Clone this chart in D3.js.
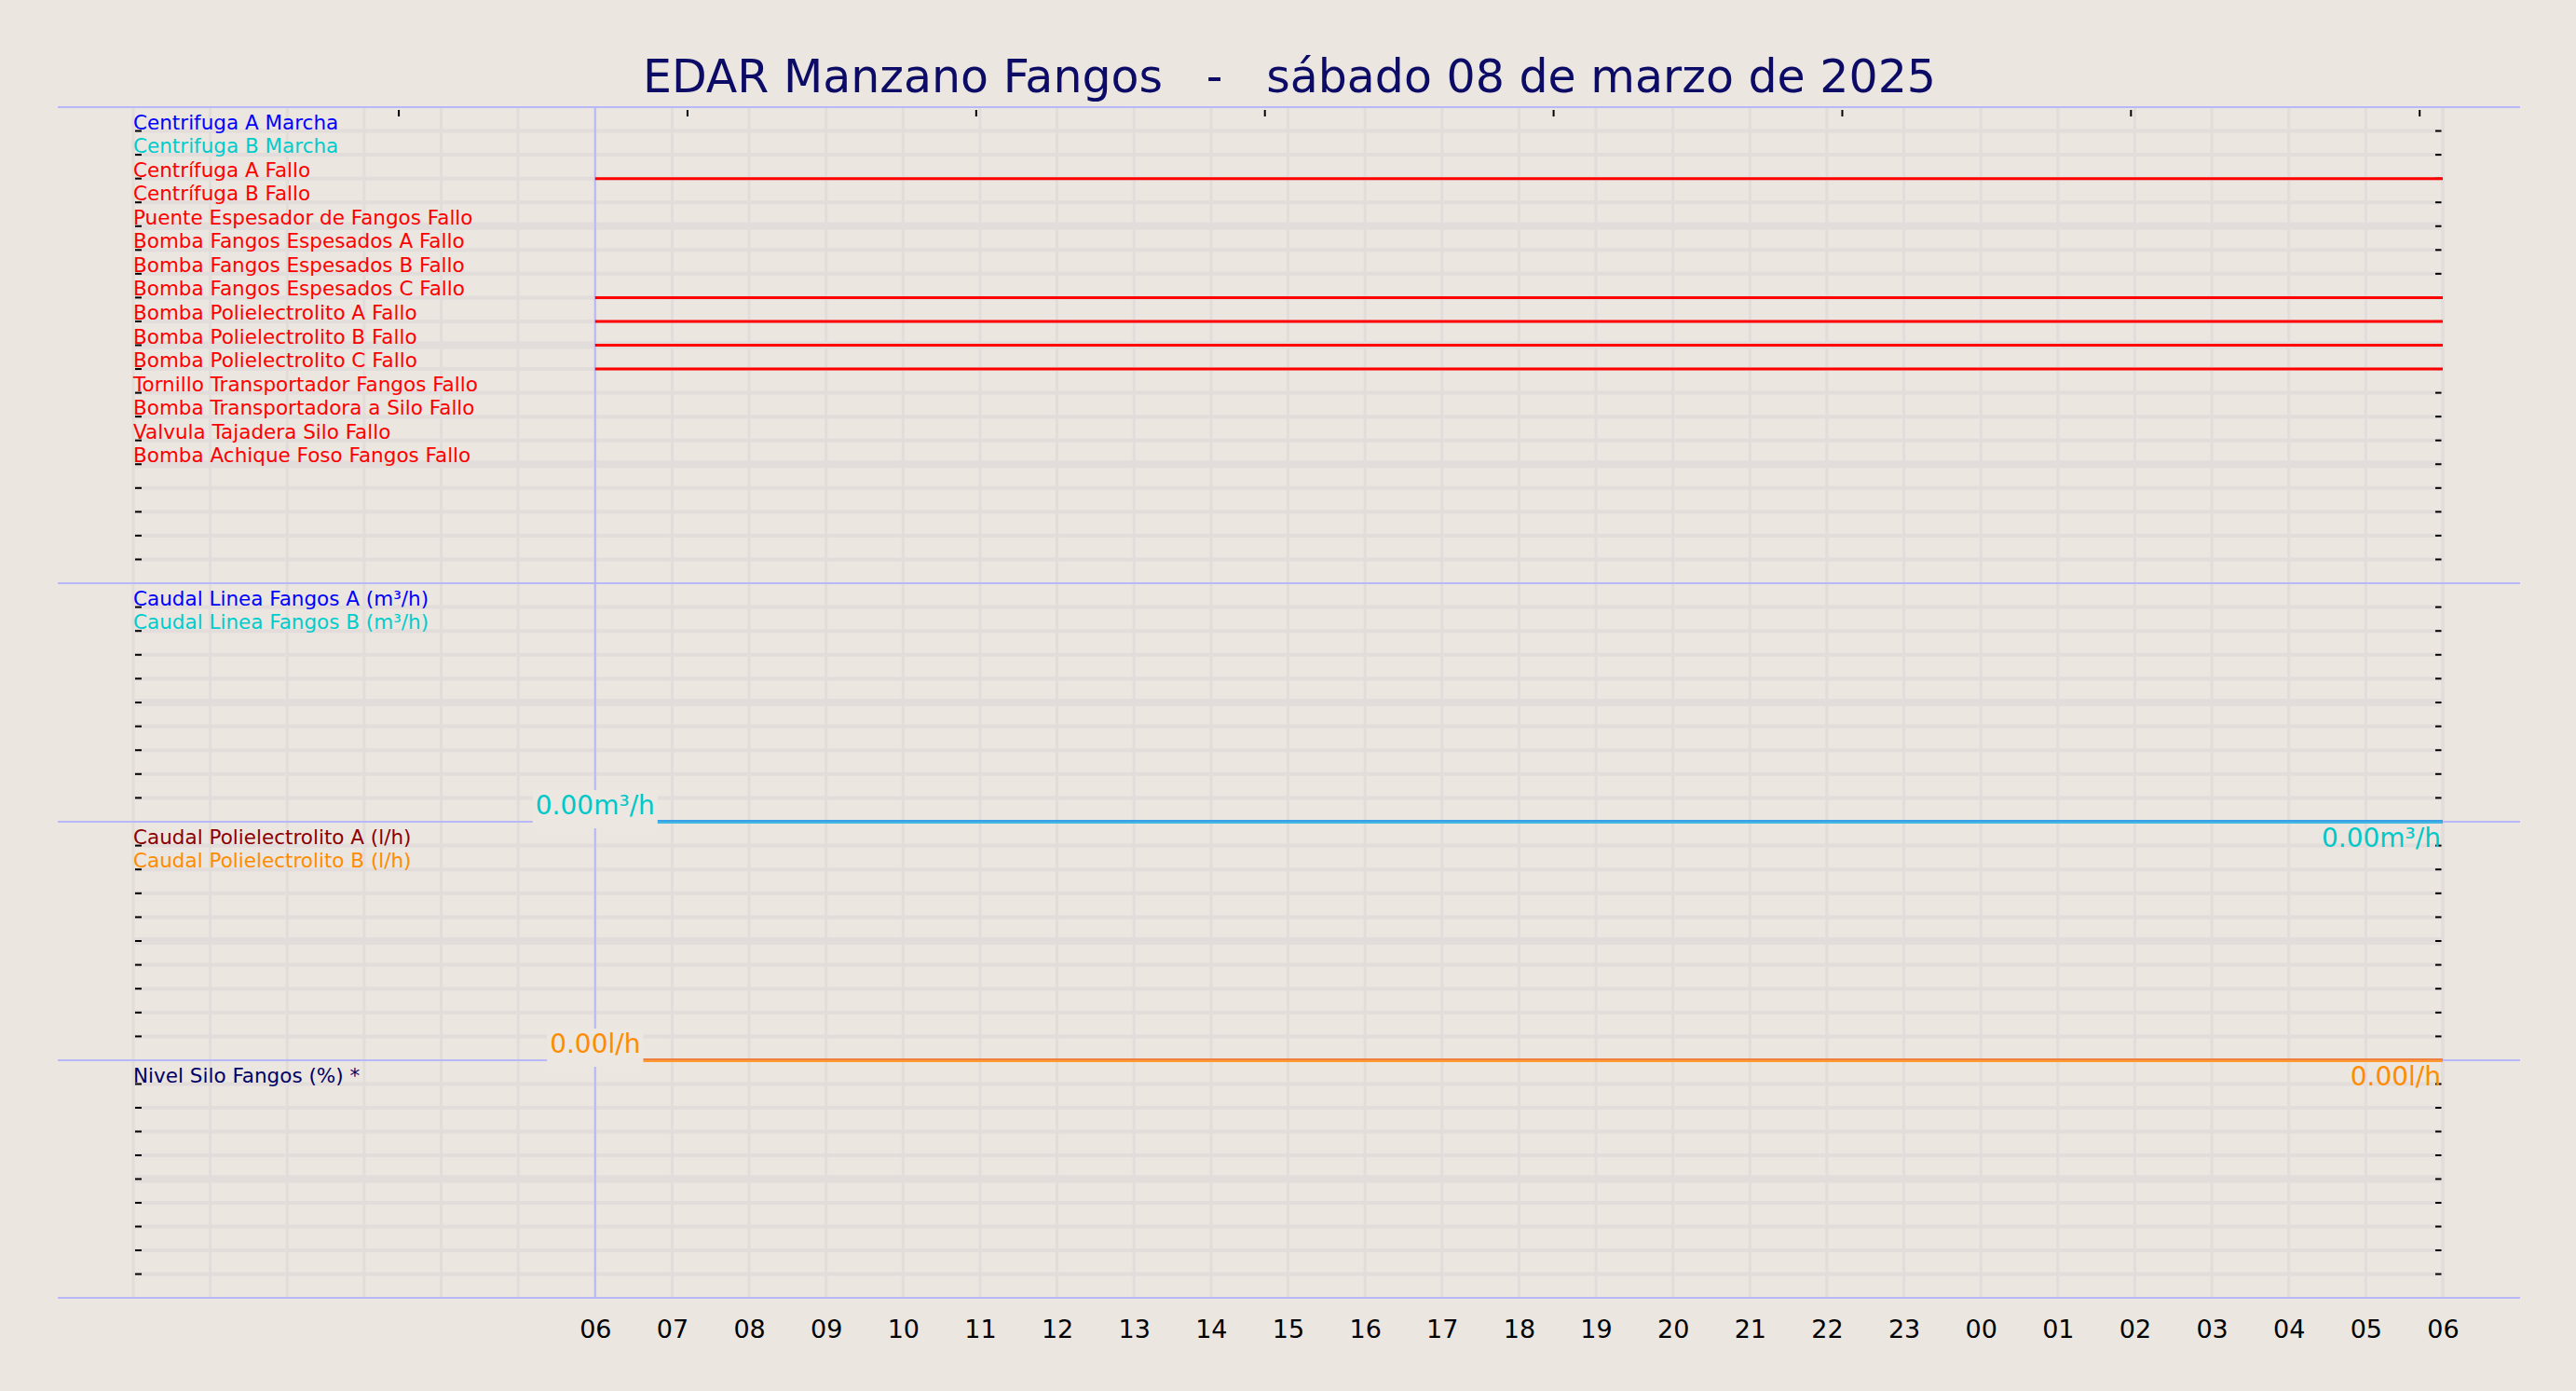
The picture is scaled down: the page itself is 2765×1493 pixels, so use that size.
<!DOCTYPE html>
<html><head><meta charset="utf-8">
<script src="https://cdn.jsdelivr.net/npm/d3@7"></script>
<style>body{margin:0;background:#ebe6e0}svg{display:block;font-family:"DejaVu Sans",sans-serif}</style>
</head><body>
<svg id="c" width="2765" height="1493"></svg>
<script>
const title = "EDAR Manzano Fangos   -   sábado 08 de marzo de 2025";
const domainStart = new Date(2025,2,8,0,0);
const domainEnd = new Date(2025,2,9,6,0);
const dataStart = new Date(2025,2,8,6,0);
const hourTicks = d3.range(6,31).map(h=>new Date(2025,2,8,h,0));
const topTickHours = [3.45,7.2,10.95,14.7,18.45,22.2,25.95,29.7];
const signalNames = ["Centrifuga A Marcha","Centrifuga B Marcha","Centrífuga A Fallo","Centrífuga B Fallo","Puente Espesador de Fangos Fallo","Bomba Fangos Espesados A Fallo","Bomba Fangos Espesados B Fallo","Bomba Fangos Espesados C Fallo","Bomba Polielectrolito A Fallo","Bomba Polielectrolito B Fallo","Bomba Polielectrolito C Fallo","Tornillo Transportador Fangos Fallo","Bomba Transportadora a Silo Fallo","Valvula Tajadera Silo Fallo","Bomba Achique Foso Fangos Fallo"];
const signalColors = ["#0000ff","#00cccc","#ff0000","#ff0000","#ff0000","#ff0000","#ff0000","#ff0000","#ff0000","#ff0000","#ff0000","#ff0000","#ff0000","#ff0000","#ff0000"];
const signalActive = [0,0,1,0,0,0,0,1,1,1,1,0,0,0,0];
const flowNames = ["Caudal Linea Fangos A (m³/h)","Caudal Linea Fangos B (m³/h)"];
const flowColors = ["#0000ff","#00cccc"];
const flowValues = [0,0];
const polyNames = ["Caudal Polielectrolito A (l/h)","Caudal Polielectrolito B (l/h)"];
const polyColors = ["#8b0000","#ff8c00"];
const polyValues = [0,0];
const siloNames = ["Nivel Silo Fangos (%) *"];
const siloColors = ["#000066"];

const svg = d3.select("#c");
const L=143,R=2622;
const x = d3.scaleTime().domain([domainStart,domainEnd]).range([L,R]);
const panels = [{top:115,bot:626,rows:20},{top:626,bot:882,rows:10},{top:882,bot:1138,rows:10},{top:1138,bot:1393,rows:10}];
panels.forEach(p=>{p.y=d3.scaleLinear().domain([0,p.rows]).range([p.top,p.bot]);});

svg.append("text").attr("x",1384).attr("y",99).attr("text-anchor","middle").attr("font-size",49).attr("fill","#0c0c66").attr("xml:space","preserve").text(title);

const g = svg.append("g");
const gridHours = d3.range(0,31).map(h=>new Date(2025,2,8,h,0));
panels.forEach(p=>{
  gridHours.forEach(t=>g.append("line").attr("x1",x(t)).attr("x2",x(t)).attr("y1",p.top).attr("y2",p.bot).attr("stroke","#e2dcda").attr("stroke-width",3));
  d3.range(1,p.rows).forEach(k=>{
    g.append("line").attr("x1",L).attr("x2",R).attr("y1",p.y(k)).attr("y2",p.y(k)).attr("stroke","#e2dcda").attr("stroke-width",k%5==0?8:4);
    g.append("line").attr("x1",L+2).attr("x2",L+9).attr("y1",p.y(k)).attr("y2",p.y(k)).attr("stroke","#000").attr("stroke-width",2);
    g.append("line").attr("x1",R-8).attr("x2",R).attr("y1",p.y(k)).attr("y2",p.y(k)).attr("stroke","#000").attr("stroke-width",2);
  });
});
g.append("line").attr("x1",R).attr("x2",R).attr("y1",115).attr("y2",1393).attr("stroke","#e2dcda").attr("stroke-width",3);
topTickHours.forEach(h=>{const t=new Date(domainStart.getTime()+h*3600e3);
  g.append("line").attr("x1",x(t)).attr("x2",x(t)).attr("y1",118).attr("y2",125).attr("stroke","#000").attr("stroke-width",2);});
panels.forEach(p=>g.append("line").attr("x1",62).attr("x2",2705).attr("y1",p.top).attr("y2",p.top).attr("stroke","#b8b8f8").attr("stroke-width",2));
g.append("line").attr("x1",62).attr("x2",2705).attr("y1",1393).attr("y2",1393).attr("stroke","#b8b8f8").attr("stroke-width",2);
g.append("line").attr("x1",x(dataStart)).attr("x2",x(dataStart)).attr("y1",115).attr("y2",1393).attr("stroke","#b8b8f8").attr("stroke-width",2);

function labels(p,names,colors){
  names.forEach((n,i)=>g.append("text").attr("x",L).attr("y",p.y(i+1)-2).attr("font-size",21.5).attr("fill",colors[i]).text(n));
}
labels(panels[0],signalNames,signalColors);
signalActive.forEach((a,i)=>{ if(a) g.append("line").attr("x1",x(dataStart)).attr("x2",x(domainEnd)).attr("y1",panels[0].y(i+1)).attr("y2",panels[0].y(i+1)).attr("stroke",signalColors[i]).attr("stroke-width",3);});

function flow(p,names,colors,vals,lineColors,unit,labelColor){
  labels(p,names,colors);
  const yv=d3.scaleLinear().domain([0,1]).range([p.bot,p.top]);
  vals.forEach((v,i)=>g.append("line").attr("x1",x(dataStart)).attr("x2",x(domainEnd)).attr("y1",yv(v)+(i?1:-1)).attr("y2",yv(v)+(i?1:-1)).attr("stroke",lineColors[i]).attr("stroke-width",2));
  const txt=vals[1].toFixed(2)+unit;
  const t=g.append("text").attr("x",x(dataStart)).attr("y",yv(vals[1])-8).attr("text-anchor","middle").attr("font-size",28).attr("fill",labelColor).text(txt);
  const bb=t.node().getBBox();
  g.insert("rect","text:last-child").attr("x",bb.x-3).attr("y",bb.y).attr("width",bb.width+6).attr("height",bb.height+8).attr("fill","#ece7e1");
  t.raise();
  g.append("text").attr("x",R-2).attr("y",yv(vals[1])+27).attr("text-anchor","end").attr("font-size",28).attr("fill",labelColor).text(txt);
}
flow(panels[1],flowNames,flowColors,flowValues,["#3aa0e8","#40b8e0"],"m³/h","#00c8c8");
flow(panels[2],polyNames,polyColors,polyValues,["#f08040","#ff9a30"],"l/h","#ff8c00");
labels(panels[3],siloNames,siloColors);

const ax = d3.axisBottom(x).tickValues(hourTicks).tickFormat(d3.timeFormat("%H")).tickSize(0).tickPadding(24);
const axg = svg.append("g").attr("transform","translate(0,1393)").call(ax);
axg.select(".domain").remove();
axg.selectAll("text").attr("font-size",27).attr("fill","#000").attr("font-family","DejaVu Sans");
</script></body></html>
